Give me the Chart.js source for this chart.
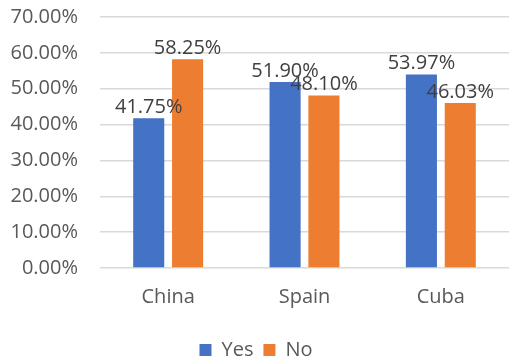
<!DOCTYPE html>
<html>
<head>
<meta charset="utf-8">
<script src="https://cdn.jsdelivr.net/npm/chart.js@4"></script>
<style>
  html, body { margin: 0; padding: 0; background: #fff; }
  #wrap { width: 509px; height: 363px; }
</style>
</head>
<body>
<div id="wrap"><canvas id="c" width="509" height="363"></canvas></div>
<script>
const categories = ["China", "Spain", "Cuba"];
const yesValues = [41.75, 51.90, 53.97];
const noValues = [58.25, 48.10, 46.03];
const seriesNames = ["Yes", "No"];

const FONT = "'Open Sans', sans-serif";

// Percentage labels placed just above each bar
const valueLabels = {
  id: 'valueLabels',
  afterDatasetsDraw(chart) {
    const ctx = chart.ctx;
    ctx.save();
    ctx.font = "20px " + FONT;
    ctx.fillStyle = '#404040';
    ctx.textAlign = 'center';
    ctx.textBaseline = 'bottom';
    chart.data.datasets.forEach((ds, di) => {
      chart.getDatasetMeta(di).data.forEach((bar, i) => {
        ctx.fillText(ds.data[i].toFixed(2) + '%', bar.x, bar.y - 1);
      });
    });
    ctx.restore();
  }
};

new Chart(document.getElementById('c'), {
  type: 'bar',
  data: {
    labels: categories,
    datasets: [
      { label: seriesNames[0], data: yesValues, backgroundColor: '#4472C4',
        categoryPercentage: 0.57, barPercentage: 0.8 },
      { label: seriesNames[1], data: noValues, backgroundColor: '#ED7D31',
        categoryPercentage: 0.57, barPercentage: 0.8 }
    ]
  },
  options: {
    responsive: false,
    animation: false,
    layout: { padding: { top: 17, right: -3, left: 0, bottom: -7 } },
    plugins: {
      legend: {
        position: 'bottom',
        labels: {
          font: { family: FONT, size: 20 },
          color: '#595959',
          boxWidth: 12,
          boxHeight: 12,
          padding: 10
        }
      },
      tooltip: { enabled: false }
    },
    scales: {
      x: {
        grid: { display: false, drawTicks: false },
        border: { display: false },
        ticks: { font: { family: FONT, size: 20 }, color: '#595959', padding: 17 },
        afterFit(scale) {
          scale.height = 62;
          scale.paddingLeft = 0;
          scale.paddingRight = 0;
        }
      },
      y: {
        min: 0,
        max: 70,
        ticks: {
          stepSize: 10,
          font: { family: FONT, size: 20 },
          color: '#595959',
          padding: 22,
          callback: v => v.toFixed(2) + '%'
        },
        grid: { color: '#D9D9D9', lineWidth: 1.5, drawTicks: false },
        border: { display: false },
        afterFit(scale) {
          scale.width = 100;
          scale.paddingTop = 0;
          scale.paddingBottom = 0;
        }
      }
    }
  },
  plugins: [valueLabels]
});
</script>
</body>
</html>
